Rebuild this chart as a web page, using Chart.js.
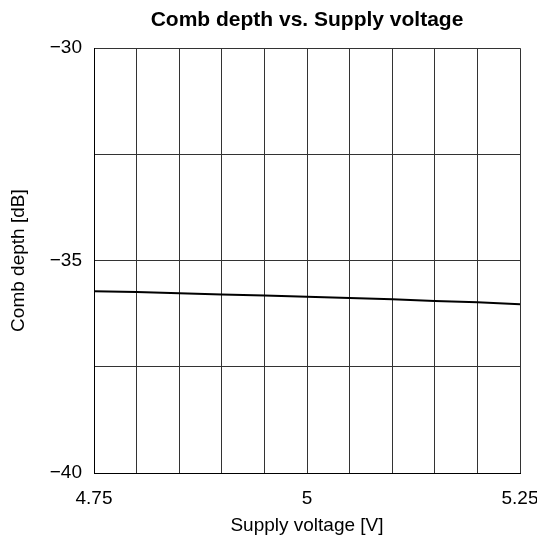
<!DOCTYPE html>
<html>
<head>
<meta charset="utf-8">
<script src="https://cdn.jsdelivr.net/npm/chart.js@4/dist/chart.umd.min.js"></script>
<style>
  html, body { margin: 0; padding: 0; background: #fff; }
  #wrap { width: 537px; height: 550px; }
</style>
</head>
<body>
<div id="wrap"><canvas id="combChart" width="537" height="550"></canvas></div>
<script>
const voltages = [4.75, 4.8, 4.85, 4.9, 4.95, 5.0, 5.05, 5.1, 5.15, 5.2, 5.25];
const combDepth = [-35.72, -35.74, -35.77, -35.8, -35.82, -35.85, -35.88, -35.91, -35.95, -35.98, -36.03];
const xTickLabels = [4.75, 5, 5.25];
const yTickLabels = [-40, -35, -30];

const FONT = "'Liberation Sans', Arial, sans-serif";

const hasLabel = (list, value) => list.some((v) => Math.abs(v - value) < 1e-6);
const fmtNum = (value) => (value < 0 ? "\u2212" + Math.abs(value) : String(value));

const points = voltages.map((v, i) => ({ x: v, y: combDepth[i] }));

new Chart(document.getElementById("combChart"), {
  type: "scatter",
  data: {
    datasets: [
      {
        data: points,
        showLine: true,
        borderColor: "#000",
        borderWidth: 2,
        pointRadius: 0,
        tension: 0,
      },
    ],
  },
  options: {
    responsive: false,
    animation: false,
    layout: { padding: 0 },
    plugins: {
      legend: { display: false },
      tooltip: { enabled: false },
      title: {
        display: true,
        fullSize: false,
        text: "Comb depth vs. Supply voltage",
        color: "#000",
        font: { family: FONT, size: 21, weight: "bold" },
        padding: { top: 8, bottom: 15 },
      },
    },
    scales: {
      x: {
        type: "linear",
        min: 4.75,
        max: 5.25,
        afterFit(scale) {
          scale.height = 77;
          scale.paddingLeft = 0;
          scale.paddingRight = 17;
        },
        ticks: {
          stepSize: 0.05,
          color: "#000",
          padding: 14,
          maxRotation: 0,
          autoSkip: false,
          font: { family: FONT, size: 19 },
          callback: (value) => (hasLabel(xTickLabels, value) ? String(Math.round(value * 100) / 100) : ""),
        },
        grid: { color: "#333", lineWidth: 1, drawTicks: false },
        border: { color: "#000", width: 1 },
        title: {
          display: true,
          text: "Supply voltage [V]",
          color: "#000",
          font: { family: FONT, size: 19 },
          padding: { top: 0, bottom: 13 },
        },
      },
      y: {
        type: "linear",
        min: -40,
        max: -30,
        afterFit(scale) { scale.width = 94; },
        ticks: {
          stepSize: 2.5,
          color: "#000",
          padding: 12,
          autoSkip: false,
          font: { family: FONT, size: 19 },
          callback: (value) => (hasLabel(yTickLabels, value) ? fmtNum(value) : ""),
        },
        grid: { color: "#333", lineWidth: 1, drawTicks: false },
        border: { color: "#000", width: 1 },
        title: {
          display: true,
          text: "Comb depth [dB]",
          color: "#000",
          font: { family: FONT, size: 19 },
          padding: { top: 7, bottom: 0 },
        },
      },
    },
  },
});
</script>
</body>
</html>
